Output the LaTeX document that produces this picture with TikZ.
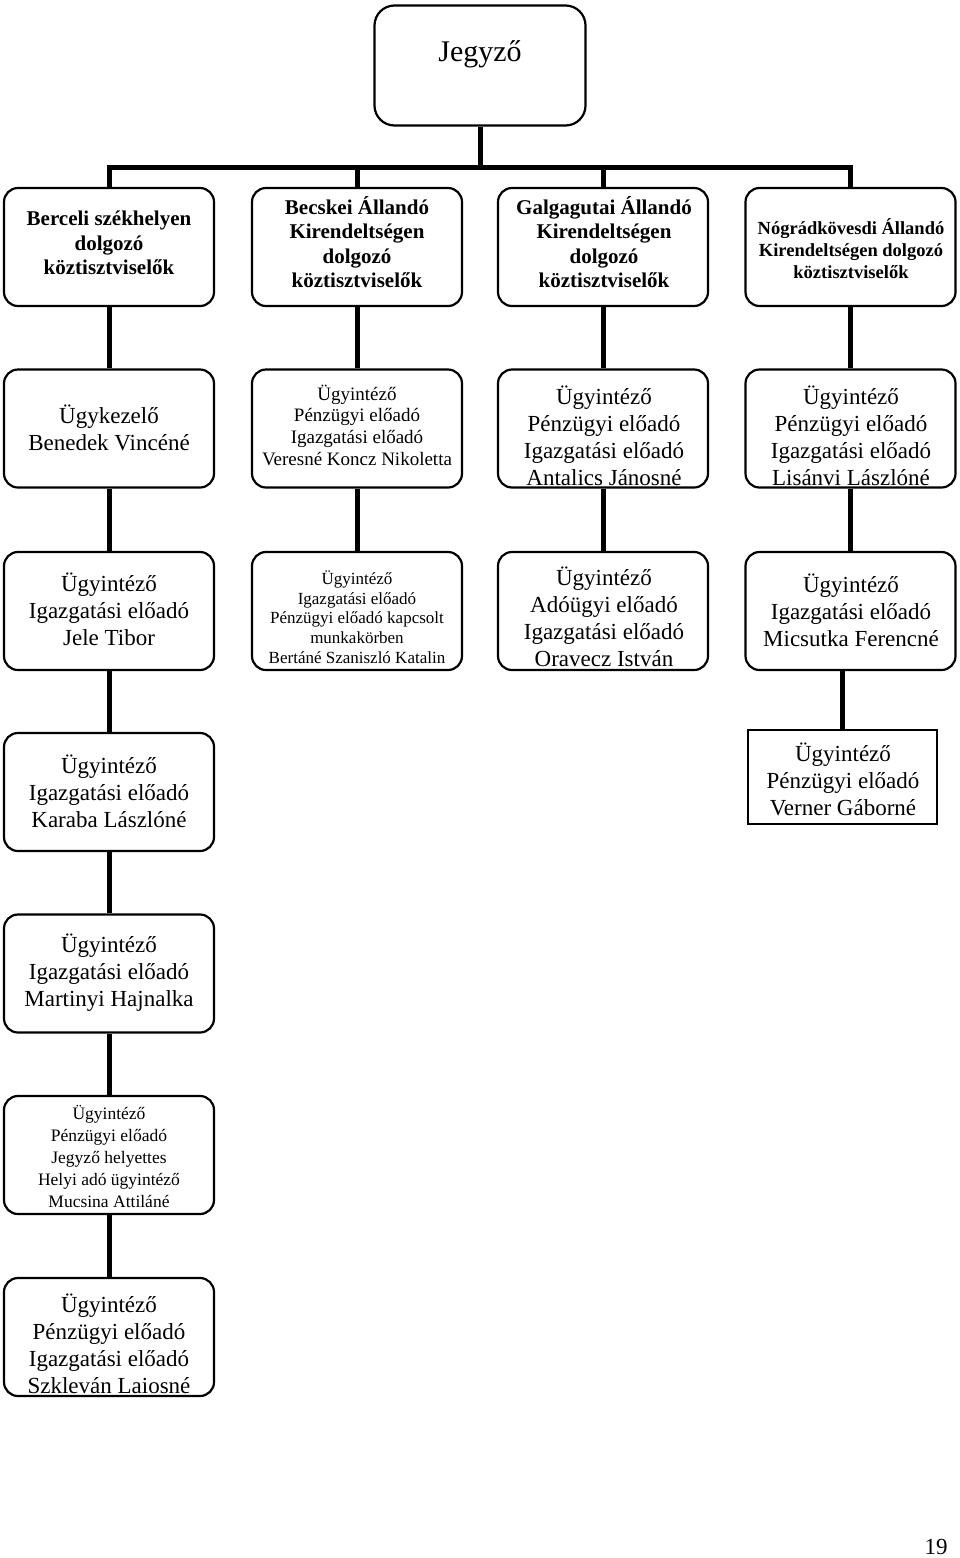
\documentclass[tikz,border=0pt]{standalone}
\usepackage{fontspec}
\setmainfont{Liberation Serif}
\begin{document}
\begin{tikzpicture}[x=1pt,y=-1pt,
  box/.style={draw, rounded corners=14pt, line width=2.2pt, minimum width=210pt, minimum height=118pt, inner sep=0pt},
  sqbox/.style={draw, line width=1.8pt, minimum width=189pt, minimum height=94pt, inner sep=0pt},
  txt/.style={align=center, inner sep=0pt, font=\fontsize{23}{27}\selectfont},
  btxt/.style={align=center, inner sep=0pt, font=\fontsize{21}{24.5}\selectfont\bfseries},
  conn/.style={line width=5pt, line join=miter}]
\useasboundingbox (0,0) rectangle (960,1558);
\fill[white] (0,0) rectangle (960,1558);

% boxes
\node[box, rounded corners=20pt, minimum width=211pt, minimum height=120pt] (jeg) at (480,65.5) {};
\node[box] (b11) at (109,247) {};
\node[box] (b12) at (357,247) {};
\node[box] (b13) at (603,247) {};
\node[box] (b14) at (850.5,247) {};
\node[box] (b21) at (109,428.5) {};
\node[box] (b22) at (357,428.5) {};
\node[box] (b23) at (603,428.5) {};
\node[box] (b24) at (850.5,428.5) {};
\node[box] (b31) at (109,611) {};
\node[box] (b32) at (357,611) {};
\node[box] (b33) at (603,611) {};
\node[box] (b34) at (850.5,611) {};
\node[box] (b41) at (109,792) {};
\node[sqbox] (b44) at (842.5,777) {};
\node[box] (b51) at (109,973.5) {};
\node[box] (b61) at (109,1155) {};
\node[box] (b71) at (109,1337) {};

% texts
\node[txt, font=\fontsize{30}{34}\selectfont] (tjeg) at (480,54) {Jegyző};
\node[btxt] (t11) at (109,243) {Berceli székhelyen\\dolgozó\\köztisztviselők};
\node[btxt] (t12) at (357,242) {Becskei Állandó\\Kirendeltségen\\dolgozó\\köztisztviselők};
\node[btxt] (t13) at (604,242) {Galgagutai Állandó\\Kirendeltségen\\dolgozó\\köztisztviselők};
\node[btxt, font=\fontsize{18.5}{22}\selectfont\bfseries] (t14) at (851,249) {Nógrádkövesdi Állandó\\Kirendeltségen dolgozó\\köztisztviselők};
\node[txt] (t21) at (109,428) {Ügykezelő\\Benedek Vincéné};
\node[txt, font=\fontsize{19}{21.7}\selectfont] (t22) at (357,425) {Ügyintéző\\Pénzügyi előadó\\Igazgatási előadó\\Veresné Koncz Nikoletta};
\node[txt] (t23) at (604,436) {Ügyintéző\\Pénzügyi előadó\\Igazgatási előadó\\Antalics Jánosné};
\node[txt] (t24) at (851,436) {Ügyintéző\\Pénzügyi előadó\\Igazgatási előadó\\Lisánvi Lászlóné};
\node[txt] (t31) at (109,609) {Ügyintéző\\Igazgatási előadó\\Jele Tibor};
\node[txt, font=\fontsize{17}{19.8}\selectfont] (t32) at (357,617) {Ügyintéző\\Igazgatási előadó\\Pénzügyi előadó kapcsolt\\munkakörben\\Bertáné Szaniszló Katalin};
\node[txt] (t33) at (604,617) {Ügyintéző\\Adóügyi előadó\\Igazgatási előadó\\Oravecz István};
\node[txt] (t34) at (851,610) {Ügyintéző\\Igazgatási előadó\\Micsutka Ferencné};
\node[txt] (t41) at (109,791) {Ügyintéző\\Igazgatási előadó\\Karaba Lászlóné};
\node[txt] (t44) at (843,779) {Ügyintéző\\Pénzügyi előadó\\Verner Gáborné};
\node[txt] (t51) at (109,972.5) {Ügyintéző\\Igazgatási előadó\\Martinyi Hajnalka};
\node[txt, font=\fontsize{17.5}{22}\selectfont] (t61) at (109,1156) {Ügyintéző\\Pénzügyi előadó\\Jegyző helyettes\\Helyi adó ügyintéző\\Mucsina Attiláné};
\node[txt] (t71) at (109,1343.5) {Ügyintéző\\Pénzügyi előadó\\Igazgatási előadó\\Szkleván Laiosné};
\node[txt] (page) at (936,1547) {19};

% connectors
\coordinate (bus) at (480,167);
\draw[conn] (jeg.south) -- (bus);
\draw[conn] (b11.north) |- (bus) -| (b14.north);
\draw[conn] (b12.north) -- (b12.north |- bus);
\draw[conn] (b13.north) -- (b13.north |- bus);
\draw[conn] (b11.south) -- (b21.north);
\draw[conn] (b12.south) -- (b22.north);
\draw[conn] (b13.south) -- (b23.north);
\draw[conn] (b14.south) -- (b24.north);
\draw[conn] (b21.south) -- (b31.north);
\draw[conn] (b22.south) -- (b32.north);
\draw[conn] (b23.south) -- (b33.north);
\draw[conn] (b24.south) -- (b34.north);
\draw[conn] (b31.south) -- (b41.north);
\draw[conn] (b34.south -| b44.north) -- (b44.north);
\draw[conn] (b41.south) -- (b51.north);
\draw[conn] (b51.south) -- (b61.north);
\draw[conn] (b61.south) -- (b71.north);
\end{tikzpicture}
\end{document}
